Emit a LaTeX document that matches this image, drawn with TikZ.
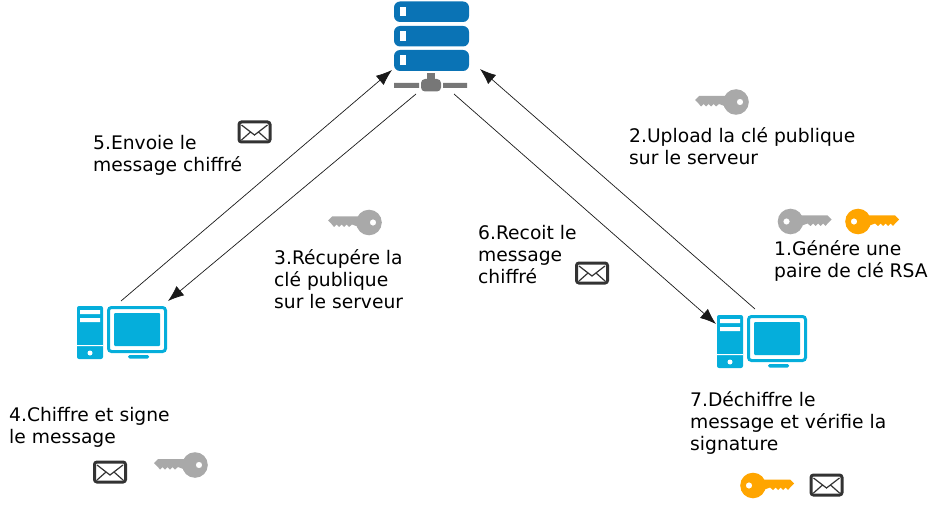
\documentclass[tikz,border=0pt]{standalone}
\usepackage{fontspec}
\setmainfont{DejaVu Sans}
\usetikzlibrary{arrows.meta}
\definecolor{srvblue}{HTML}{0A73B5}
\definecolor{pcblue}{HTML}{05AEDB}
\definecolor{srvgray}{HTML}{777777}
\definecolor{keygray}{HTML}{A9A9A9}
\definecolor{keyorange}{HTML}{FFA500}
\definecolor{envdark}{HTML}{333333}
\tikzset{
  x=1pt,y=-1pt,
  lbl/.style={anchor=north west,inner sep=0pt,align=left,text=black,font=\fontsize{18.7}{22}\selectfont},
  link/.style={draw=black!90,line width=0.7pt,-{Latex[length=16pt,width=12pt]}},
  keypic/.pic={
    \fill[pic actions,even odd rule] (0,0) circle[radius=12.8] (-4,0) circle[radius=3.2];
    \fill[pic actions] (9,-6) -- (37,-6) -- (41,-2) -- (37.5,1.5) -- (35,4.5) -- (32.5,2) -- (30,4.5) -- (27.5,2) -- (25,4.5) -- (22.5,2) -- (20,4.5) -- (17,2) -- (9,5) -- cycle;
  },
  envpic/.pic={
    \draw[envdark,line width=3pt,rounded corners=2.5pt,fill=white] (-15.5,-10) rectangle (15.5,10);
    \draw[envdark,line width=1.2pt] (-13,-7) -- (0,3) -- (13,-7) (-13,8) -- (-4,0) (13,8) -- (4,0);
  },
  pcpic/.pic={
    \fill[pcblue,rounded corners=2pt] (717,315) rectangle (743,368);
    \fill[white] (720,319) rectangle (740,323) (720,327) rectangle (740,331) (717,354) rectangle (743,355);
    \fill[white] (730,362) circle[radius=2.5];
    \draw[pcblue,line width=3pt,rounded corners=3pt] (748.5,316.5) rectangle (805.5,360.5);
    \fill[pcblue,rounded corners=1pt] (754,322) rectangle (800,355);
    \fill[pcblue,rounded corners=1.5pt] (768,364) rectangle (789,367.5);
  }
}
\begin{document}
\begin{tikzpicture}
\useasboundingbox (0,0) rectangle (937,513);
% server
\foreach \t/\b in {1.5/22,26/46.5,50/71}{
  \fill[srvblue,rounded corners=6pt] (394,\t) rectangle (469,\b);
  \fill[white] (400,\t+5.5) rectangle (406,\t+15);
}
\fill[srvgray] (427,73) rectangle (435,80);
\fill[srvgray,rounded corners=4pt] (421,79) rectangle (441,91.5);
\fill[srvgray] (394,83) rectangle (419,88) (443,83) rectangle (467,88);
% computers
\pic at (0,0) {pcpic};
\pic at (-640,-9) {pcpic};
% keys
\pic[keygray] at (790.5,221.5) {keypic};
\pic[keyorange] at (858,221.5) {keypic};
\pic[keyorange] at (753,485.5) {keypic};
\pic[keygray,xscale=-1] at (736,102) {keypic};
\pic[keygray,xscale=-1] at (369,222.5) {keypic};
\pic[keygray,xscale=-1] at (195,465) {keypic};
% envelopes
\pic at (254.5,132) {envpic};
\pic at (592,273) {envpic};
\pic at (110,472) {envpic};
\pic at (826.5,485) {envpic};
% labels
\node[lbl] (t1) at (774,240) {1.Génére une\\paire de clé RSA};
\node[lbl] (t2) at (629,127) {2.Upload la clé publique\\sur le serveur};
\node[lbl] (t3) at (274,249) {3.Récupére la\\clé publique\\sur le serveur};
\node[lbl] (t4) at (9,407) {4.Chiffre et signe\\le message};
\node[lbl] (t5) at (93,135) {5.Envoie le\\message chiffré};
\node[lbl] (t6) at (478,225) {6.Recoit le\\message\\chiffré};
\node[lbl] (t7) at (690,391) {7.Déchiffre le\\message et vérifie la\\signature};
% connector ends
\coordinate (pcLa) at (121,301);
\coordinate (pcLb) at (168,301);
\coordinate (pcRa) at (755,309);
\coordinate (pcRb) at (716,324);
\coordinate (srvA) at (392,70);
\coordinate (srvB) at (416,94);
\coordinate (srvC) at (480,69);
\coordinate (srvD) at (454,94);
\draw[link] (pcLa) -- (srvA);
\draw[link] (srvB) -- (pcLb);
\draw[link] (pcRa) -- (srvC);
\draw[link] (srvD) -- (pcRb);
\end{tikzpicture}
\end{document}
